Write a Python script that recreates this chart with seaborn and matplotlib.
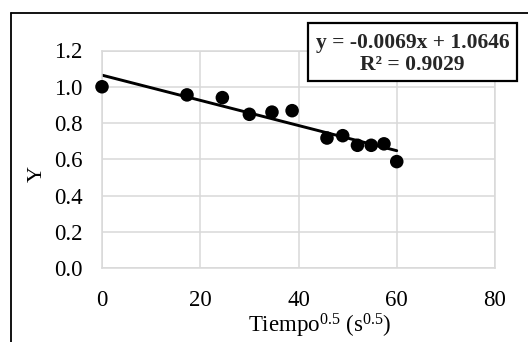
import numpy as np
import pandas as pd
import matplotlib
matplotlib.use("Agg")
import matplotlib.pyplot as plt
from matplotlib.lines import Line2D
from matplotlib.patches import Rectangle
import seaborn as sns

# values
tiempo = [0.0, 17.3, 24.5, 30.0, 34.6, 38.7, 45.8, 49.0, 52.0, 54.8, 57.4, 60.0]
y_vals = [1.00, 0.955, 0.94, 0.848, 0.86, 0.868, 0.717, 0.73, 0.677, 0.677, 0.685, 0.587]
x_ticks = [0, 20, 40, 60, 80]
y_ticks = [0.0, 0.2, 0.4, 0.6, 0.8, 1.0, 1.2]
eq_text = "y = -0.0069x + 1.0646"
r2_text = "R² = 0.9029"

df = pd.DataFrame({"tiempo": tiempo, "Y": y_vals})

sns.set_style("whitegrid")
plt.rcParams["font.family"] = ["Liberation Serif", "DejaVu Serif"]
plt.rcParams["mathtext.fontset"] = "custom"
plt.rcParams["mathtext.rm"] = "Liberation Serif"
plt.rcParams["mathtext.default"] = "regular"

W, H = 528, 342
fig = plt.figure(figsize=(W / 100, H / 100), dpi=100)
ax = fig.add_axes([102 / W, 1 - 268 / H, (495 - 102) / W, (268 - 50.5) / H])

sns.regplot(data=df, x="tiempo", y="Y", ax=ax, ci=None, truncate=True,
            scatter_kws={"color": "black", "alpha": 1, "s": 95, "edgecolor": "none",
                         "zorder": 3, "clip_on": False},
            line_kws={"color": "black", "linewidth": 2.1, "zorder": 2})

ax.set_xlim(0, 80)
ax.set_ylim(0, 1.2)
ax.set_xticks(x_ticks)
ax.set_yticks(y_ticks)
ax.set_yticklabels([f"{v:.1f}" for v in y_ticks])
ax.tick_params(axis="x", length=0, pad=16, labelsize=16.5, colors="black")
ax.tick_params(axis="y", length=0, pad=14, labelsize=16.5, colors="black")
ax.grid(True, color="#d9d9d9", linewidth=1.1)
for sp in ax.spines.values():
    sp.set_color("#d9d9d9")
    sp.set_linewidth(1.1)

ax.set_xlabel("Tiempo$^{0.5}$ (s$^{0.5}$)", fontsize=16.5, color="black")
ax.xaxis.set_label_coords((320 - 102) / 393, (268 - 312) / 217.5)
ax.set_ylabel("Y", fontsize=16, color="black")
ax.yaxis.set_label_coords((47 - 102) / 393, (268 - 174) / 217.5)

# outer chart frame
fig.add_artist(Line2D([11 / W, 11 / W], [0, 1 - 13 / H], color="black", linewidth=1.3))
fig.add_artist(Line2D([11 / W, 1], [1 - 13 / H, 1 - 13 / H], color="black", linewidth=1.3))

# trendline equation box
fig.add_artist(Rectangle((308 / W, 1 - 81 / H), (517 - 308) / W, (81 - 23) / H,
                         transform=fig.transFigure, facecolor="white",
                         edgecolor="black", linewidth=1.6, zorder=5))
fig.text(412.5 / W, 1 - 48 / H, eq_text, ha="center", va="baseline",
         fontsize=15.5, fontweight="bold", zorder=6)
fig.text(412.5 / W, 1 - 70 / H, r2_text, ha="center", va="baseline",
         fontsize=15.5, fontweight="bold", zorder=6)

fig.savefig("out.png", dpi=100)
